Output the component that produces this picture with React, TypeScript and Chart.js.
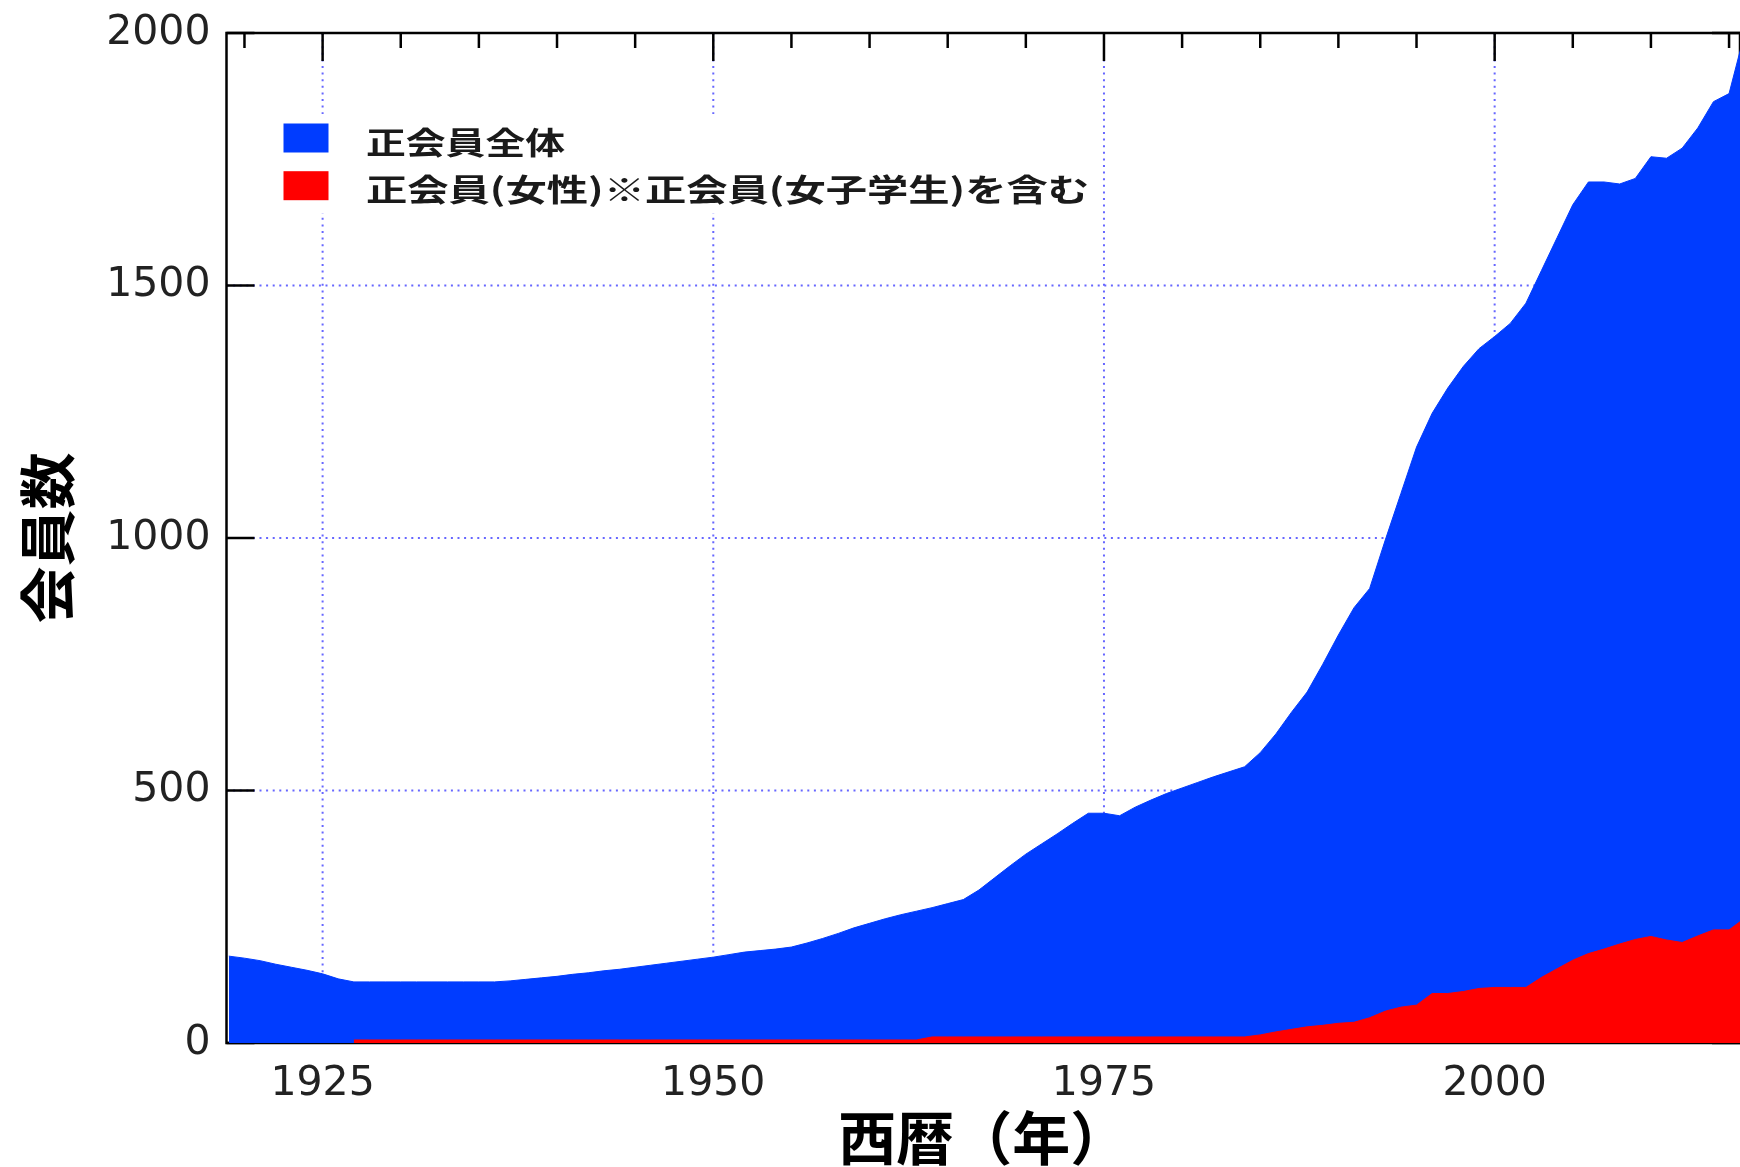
import React, { useEffect, useRef } from 'react';
import { Chart, registerables } from 'chart.js';

Chart.register(...registerables);

// ---- data ----
const TOTAL_YEARS: number[] = Array.from({ length: 98 }, (_, i) => 1919 + i); // 1919..2016
const TOTAL_MEMBERS: number[] = [
  172, 168, 163, 156, 150, 144, 137, 127, 121, 121,
  121, 121, 121, 121, 121, 121, 121, 121, 123, 126,
  129, 132, 136, 139, 143, 146, 150, 154, 158, 162,
  166, 170, 175, 180, 183, 186, 190, 198, 207, 217,
  228, 237, 246, 254, 261, 268, 276, 284, 303, 327,
  351, 374, 394, 414, 435, 455, 455, 450, 467, 481,
  494, 505, 516, 527, 537, 547, 575, 612, 655, 695,
  750, 808, 862, 900, 996, 1088, 1180, 1247, 1297, 1340,
  1375, 1399, 1425, 1465, 1530, 1595, 1660, 1705, 1705, 1701,
  1712, 1755, 1752, 1772, 1812, 1864, 1880, 2000,
];

const FEMALE_YEARS: number[] = Array.from({ length: 90 }, (_, i) => 1927 + i); // 1927..2016
const FEMALE_MEMBERS: number[] = [
  6, 6, 6, 6, 6, 6, 6, 6, 6, 6,
  6, 6, 6, 6, 6, 6, 6, 6, 6, 6,
  6, 6, 6, 6, 6, 6, 6, 6, 6, 6,
  6, 6, 6, 6, 6, 6, 6, 12, 12, 12,
  12, 12, 12, 12, 12, 12, 12, 12, 12, 12,
  12, 12, 12, 12, 12, 12, 12, 12, 16, 22,
  27, 32, 35, 39, 41, 50, 63, 71, 75, 98,
  98, 102, 108, 110, 110, 110, 130, 147, 164, 177,
  186, 196, 205, 211, 204, 199, 212, 224, 224, 247,
];

const SERIES_LABELS = ['正会員全体', '正会員(女性)※正会員(女子学生)を含む'];
const X_TITLE = '西暦（年）';
const Y_TITLE = '会員数';

const X_RANGE = [1918.85, 2015.7];
const Y_RANGE = [0, 2000];
const X_LABEL_TICKS = [1925, 1950, 1975, 2000];
const X_MINOR_TICKS = [1920, 1930, 1935, 1940, 1945, 1955, 1960, 1965, 1970, 1980, 1985, 1990, 1995, 2005, 2010, 2015];
const Y_LABEL_TICKS = [0, 500, 1000, 1500, 2000];

// ---- styles ----
const BLUE = '#003cff';
const RED = '#ff0000';
const GRID_COLOR = '#6666ff';
const TICK_FONT = '"DejaVu Sans", sans-serif';
const CJK_FONT = '"Noto Sans CJK JP", sans-serif';
const LEGEND_TEXT_WIDTHS = [199, 723];

const framePlugin = {
  id: 'gnuplotFrame',
  beforeDatasetsDraw(chart: any) {
    const { ctx, chartArea: a, scales } = chart;
    const xs = scales.x;
    const ys = scales.y;
    ctx.save();
    // dotted grid
    ctx.strokeStyle = GRID_COLOR;
    ctx.lineWidth = 2;
    ctx.setLineDash([2, 4.6]);
    X_LABEL_TICKS.forEach((v) => {
      const px = xs.getPixelForValue(v);
      ctx.beginPath();
      ctx.moveTo(px, a.top);
      ctx.lineTo(px, a.bottom);
      ctx.stroke();
    });
    Y_LABEL_TICKS.filter((v) => v > Y_RANGE[0] && v < Y_RANGE[1]).forEach((v) => {
      const py = ys.getPixelForValue(v);
      ctx.beginPath();
      ctx.moveTo(a.left, py);
      ctx.lineTo(a.right, py);
      ctx.stroke();
    });
    ctx.setLineDash([]);
    // inward ticks
    ctx.strokeStyle = '#000';
    ctx.lineWidth = 2.5;
    const seg = (x1: number, y1: number, x2: number, y2: number) => {
      ctx.beginPath();
      ctx.moveTo(x1, y1);
      ctx.lineTo(x2, y2);
      ctx.stroke();
    };
    const MAJOR = 28;
    const MINOR = 15;
    X_LABEL_TICKS.forEach((v) => {
      const px = xs.getPixelForValue(v);
      seg(px, a.top, px, a.top + MAJOR);
      seg(px, a.bottom, px, a.bottom - MAJOR);
    });
    X_MINOR_TICKS.forEach((v) => {
      const px = xs.getPixelForValue(v);
      seg(px, a.top, px, a.top + MINOR);
      seg(px, a.bottom, px, a.bottom - MINOR);
    });
    Y_LABEL_TICKS.forEach((v) => {
      const py = ys.getPixelForValue(v);
      seg(a.left, py, a.left + MAJOR, py);
      seg(a.right, py, a.right - MAJOR, py);
    });
    // frame
    ctx.strokeRect(a.left, a.top, a.right - a.left, a.bottom - a.top);
    ctx.restore();
  },
};

const legendPlugin = {
  id: 'boxLegend',
  afterDatasetsDraw(chart: any) {
    const { ctx } = chart;
    ctx.save();
    ctx.fillStyle = '#ffffff';
    ctx.fillRect(262, 114, 834, 99);
    chart.data.datasets.forEach((ds: any, i: number) => {
      const rowY = 123.5 + i * 47.7;
      ctx.fillStyle = ds.backgroundColor;
      ctx.fillRect(283.5, rowY, 45, 29);
      ctx.save();
      ctx.font = `bold 31px ${CJK_FONT}`;
      const w = ctx.measureText(ds.label).width;
      const sx = LEGEND_TEXT_WIDTHS[i] / w;
      ctx.translate(366, rowY + 30);
      ctx.scale(sx, 1);
      ctx.fillStyle = '#1a1a1a';
      ctx.textBaseline = 'alphabetic';
      ctx.textAlign = 'left';
      ctx.fillText(ds.label, 0, 0);
      ctx.restore();
    });
    ctx.restore();
  },
};

export default function App() {
  const canvasRef = useRef<HTMLCanvasElement | null>(null);

  useEffect(() => {
    const canvas = canvasRef.current;
    if (!canvas) return;
    const chart = new Chart(canvas, {
      type: 'line',
      data: {
        datasets: [
          {
            label: SERIES_LABELS[0],
            data: TOTAL_YEARS.map((x, i) => ({ x, y: TOTAL_MEMBERS[i] })),
            order: 2,
            fill: 'origin',
            backgroundColor: BLUE,
            borderColor: BLUE,
            borderWidth: 1,
            pointRadius: 0,
            tension: 0,
          },
          {
            label: SERIES_LABELS[1],
            data: FEMALE_YEARS.map((x, i) => ({ x, y: FEMALE_MEMBERS[i] })),
            order: 1,
            fill: 'origin',
            backgroundColor: RED,
            borderColor: RED,
            borderWidth: 1,
            pointRadius: 0,
            tension: 0,
          },
        ],
      },
      options: {
        animation: false,
        responsive: false,
        devicePixelRatio: 1,
        layout: { padding: { top: 33, left: 0, right: 0, bottom: 0 } },
        plugins: {
          legend: { display: false },
          tooltip: { enabled: false },
        },
        scales: {
          x: {
            type: 'linear',
            min: X_RANGE[0],
            max: X_RANGE[1],
            grid: { display: false },
            border: { display: false },
            afterBuildTicks: (s: any) => {
              s.ticks = X_LABEL_TICKS.map((v) => ({ value: v }));
            },
            afterFit: (s: any) => {
              s.height = 124;
            },
            ticks: {
              autoSkip: false,
              maxRotation: 0,
              minRotation: 0,
              padding: 13,
              color: '#222',
              font: { family: TICK_FONT, size: 41, lineHeight: 1 },
              callback: (v: any) => String(v),
            },
            title: {
              display: true,
              text: X_TITLE,
              color: '#000',
              font: { family: CJK_FONT, size: 58, weight: 'bold', lineHeight: 1 },
              padding: { top: 0, bottom: 0 },
            },
          },
          y: {
            type: 'linear',
            min: Y_RANGE[0],
            max: Y_RANGE[1],
            grid: { display: false },
            border: { display: false },
            afterBuildTicks: (s: any) => {
              s.ticks = Y_LABEL_TICKS.map((v) => ({ value: v }));
            },
            afterFit: (s: any) => {
              s.width = 226.5;
            },
            ticks: {
              autoSkip: false,
              padding: 8,
              color: '#222',
              font: { family: TICK_FONT, size: 41, lineHeight: 1 },
              callback: (v: any) => String(v),
            },
            title: {
              display: true,
              text: Y_TITLE,
              color: '#000',
              font: { family: CJK_FONT, size: 57, weight: 'bold', lineHeight: 1 },
              padding: { top: 19, bottom: 0 },
            },
          },
        },
      },
      plugins: [framePlugin, legendPlugin],
    } as any);
    return () => chart.destroy();
  }, []);

  return (
    <div style={{ position: 'absolute', left: 0, top: 0, width: 1740, height: 1167, background: '#fff', overflow: 'hidden' }}>
      <canvas ref={canvasRef} width={1740} height={1167} style={{ display: 'block' }} />
    </div>
  );
}
